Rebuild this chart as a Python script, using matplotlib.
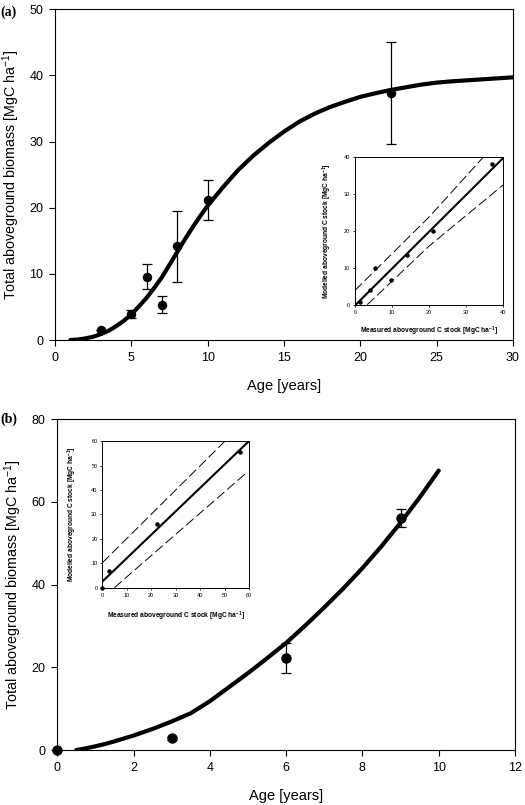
import matplotlib
matplotlib.use('Agg')
import matplotlib.pyplot as plt

plt.rcParams['font.family'] = ['Liberation Sans', 'DejaVu Sans']
plt.rcParams['mathtext.fontset'] = 'custom'
plt.rcParams['mathtext.rm'] = 'Liberation Sans'
plt.rcParams['mathtext.default'] = 'regular'

# panel (a): measured stock by age
ages_a = [3, 5, 6, 7, 8, 10, 22]
mean_a = [1.5, 4.0, 9.6, 5.3, 14.2, 21.2, 37.3]
low_a = [1.5, 3.4, 7.7, 4.1, 8.8, 18.2, 29.7]
high_a = [1.5, 4.6, 11.5, 6.6, 19.5, 24.2, 45.0]

# model curve (a)
curve_a_x = [1, 1.5, 2, 2.5, 3, 3.5, 4, 4.5, 5, 5.5, 6, 6.5, 7, 7.5, 8, 8.5, 9, 9.5, 10,
             10.5, 11, 11.5, 12, 12.5, 13, 14, 15, 16, 17, 18, 19, 20, 21, 22, 23, 24,
             25, 26, 27, 28, 29, 30]
curve_a_y = [0, 0.08, 0.25, 0.5, 0.9, 1.4, 2.1, 2.9, 3.9, 5.1, 6.4, 7.9, 9.5, 11.4, 13.3,
             15.2, 17.0, 18.7, 20.3, 21.7, 23.1, 24.4, 25.7, 26.8, 27.9, 29.8, 31.5, 33.0,
             34.2, 35.2, 36.0, 36.75, 37.3, 37.8, 38.2, 38.6, 38.9, 39.1, 39.25, 39.4,
             39.55, 39.7]

# inset (a): measured vs modelled
meas_a = [1.4, 4.0, 5.3, 9.7, 14.1, 21.2, 37.1]
mod_a = [0.6, 4.0, 9.9, 6.7, 13.4, 20.1, 38.2]
fit_a_x = [0, 40]
fit_a_y = [-0.2, 39.8]
upper_a_x = [0, 20, 34.6]
upper_a_y = [3.9, 23.8, 40]
lower_a_x = [3.3, 20, 40]
lower_a_y = [0, 15.9, 32.5]

# panel (b)
ages_b = [0, 3, 6, 9]
mean_b = [0, 2.8, 22.3, 56.1]
low_b = [0, 2.5, 18.7, 53.9]
high_b = [0, 3.1, 26.0, 58.4]

curve_b_x = [0.5, 0.75, 1, 1.25, 1.5, 2, 2.5, 3, 3.5, 4, 4.5, 5, 5.5, 6, 6.5, 7, 7.5, 8,
             8.5, 9, 9.5, 10]
curve_b_y = [0, 0.4, 0.9, 1.45, 2.1, 3.5, 5.1, 6.9, 8.9, 11.8, 15.2, 18.6, 22.2, 25.9,
             30.1, 34.5, 39.1, 44.0, 49.3, 55.0, 61.1, 67.6]

# inset (b)
meas_b = [0, 2.7, 22.4, 56.3]
mod_b = [0, 7.0, 25.9, 55.7]
fit_b_x = [0, 60]
fit_b_y = [2.5, 60]
upper_b_x = [0, 50.2]
upper_b_y = [10.2, 60]
lower_b_x = [4.9, 58.7]
lower_b_y = [0, 46.8]

ylab = 'Total aboveground biomass [MgC ha$^{-1}$]'
inset_xlab = 'Measured aboveground C stock [MgC ha$^{-1}$]'
inset_ylab = 'Modelled aboveground C stock [MgC ha$^{-1}$]'

fig = plt.figure(figsize=(5.25, 8.05), dpi=100)


def style_main(ax):
    for s in ax.spines.values():
        s.set_linewidth(0.8)
    ax.tick_params(direction='out', length=4.5, width=0.8, labelsize=9, pad=4)


def style_inset(ax):
    for s in ax.spines.values():
        s.set_linewidth(0.7)
    ax.tick_params(direction='out', length=1.5, width=0.6, labelsize=4, pad=2)


def draw_main(ax, x, m, lo, hi, cx, cy, ms):
    ax.plot(cx, cy, color='black', lw=3, solid_capstyle='round',
            solid_joinstyle='round', zorder=3)
    err = [[a - b for a, b in zip(m, lo)], [b - a for a, b in zip(m, hi)]]
    ax.errorbar(x, m, yerr=err, fmt='o', color='black', ms=ms, elinewidth=0.9,
                capsize=3.6, capthick=0.9, zorder=4, clip_on=False)


def draw_inset(ax, mx, my, fx, fy, ux, uy, lx, ly):
    ax.plot(fx, fy, color='black', lw=1.5)
    ax.plot(ux, uy, color='black', lw=0.7, dashes=(10, 4))
    ax.plot(lx, ly, color='black', lw=0.7, dashes=(10, 4))
    ax.plot(mx, my, 'o', color='black', ms=2.2, clip_on=False)


# ---- panel (a)
ax1 = fig.add_axes([0.105, 0.5776, 0.872, 0.411])
draw_main(ax1, ages_a, mean_a, low_a, high_a, curve_a_x, curve_a_y, 5.8)
ax1.set_xlim(0, 30)
ax1.set_ylim(0, 50)
ax1.set_xticks(range(0, 31, 5))
ax1.set_yticks(range(0, 51, 10))
ax1.set_xlabel('Age [years]', fontsize=10.5, labelpad=11)
ax1.set_ylabel(ylab, fontsize=10.3, labelpad=5)
style_main(ax1)
fig.text(0.0, 1 - 12 / 805, '(a)', family=['Liberation Serif', 'DejaVu Serif'],
         weight='bold', fontsize=10, va='center')

in1 = fig.add_axes([0.6762, 0.6215, 0.2819, 0.1829])
draw_inset(in1, meas_a, mod_a, fit_a_x, fit_a_y, upper_a_x, upper_a_y, lower_a_x, lower_a_y)
in1.set_xlim(0, 40)
in1.set_ylim(0, 40)
in1.set_xticks(range(0, 41, 10))
in1.set_yticks(range(0, 41, 10))
in1.set_xlabel(inset_xlab, fontsize=4.8, weight='bold', labelpad=7)
in1.set_ylabel(inset_ylab, fontsize=4.8, weight='bold', labelpad=7)
style_inset(in1)

# ---- panel (b)
ax2 = fig.add_axes([0.109, 0.0683, 0.872, 0.4108])
draw_main(ax2, ages_b, mean_b, low_b, high_b, curve_b_x, curve_b_y, 6.5)
ax2.set_xlim(0, 12)
ax2.set_ylim(0, 80)
ax2.set_xticks(range(0, 13, 2))
ax2.set_yticks(range(0, 81, 20))
ax2.set_xlabel('Age [years]', fontsize=10.5, labelpad=11)
ax2.set_ylabel(ylab, fontsize=10.3, labelpad=5)
style_main(ax2)
fig.text(0.0, 1 - 419 / 805, '(b)', family=['Liberation Serif', 'DejaVu Serif'],
         weight='bold', fontsize=10, va='center')

in2 = fig.add_axes([0.1949, 0.2699, 0.2794, 0.1822])
draw_inset(in2, meas_b, mod_b, fit_b_x, fit_b_y, upper_b_x, upper_b_y, lower_b_x, lower_b_y)
in2.set_xlim(0, 60)
in2.set_ylim(0, 60)
in2.set_xticks(range(0, 61, 10))
in2.set_yticks(range(0, 61, 10))
in2.set_xlabel(inset_xlab, fontsize=4.8, weight='bold', labelpad=9)
in2.set_ylabel(inset_ylab, fontsize=4.8, weight='bold', labelpad=9)
style_inset(in2)

fig.savefig('out.png', dpi=100)
